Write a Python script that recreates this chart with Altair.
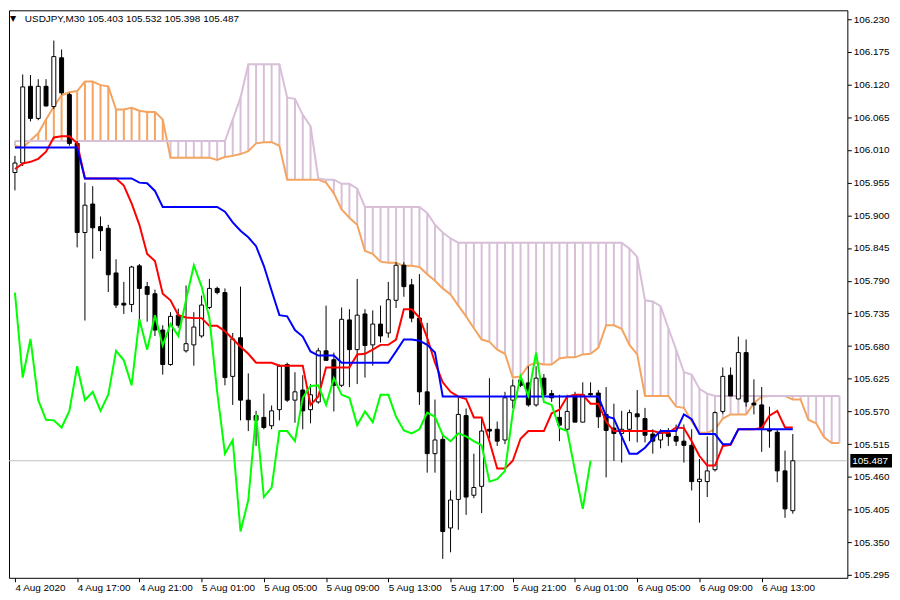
import altair as alt
import pandas as pd

# ---- candles (USDJPY M30), bar index 0..100 ----
opens = [105.972,105.988,106.117,106.063,106.117,106.083,106.165,106.103,106.021,105.871,
         105.919,105.881,105.878,105.803,105.752,105.750,105.815,105.780,105.768,105.707,
         105.649,105.732,105.672,105.682,105.697,105.745,105.777,105.770,105.629,105.694,
         105.589,105.563,105.560,105.546,105.573,105.649,105.589,105.606,105.573,105.586,
         105.672,105.657,105.614,105.724,105.674,105.734,105.682,105.717,105.702,105.757,
         105.816,105.783,105.727,105.603,105.499,105.523,105.374,105.422,105.563,105.429,
         105.444,105.540,105.540,105.522,105.589,105.623,105.618,105.581,105.626,105.600,
         105.560,105.540,105.598,105.552,105.600,105.601,105.565,105.542,105.533,105.540,
         105.566,105.558,105.532,105.522,105.533,105.528,105.520,105.513,105.452,105.452,
         105.472,105.570,105.631,105.591,105.669,105.584,105.581,105.540,105.535,105.470,
         105.403]
highs = [106.000,106.137,106.136,106.129,106.129,106.194,106.179,106.106,106.025,105.955,
         105.949,105.898,105.884,105.826,105.788,105.815,105.818,105.788,105.775,105.715,
         105.737,105.743,105.782,105.737,105.765,105.793,105.780,105.777,105.702,105.780,
         105.634,105.571,105.600,105.580,105.649,105.652,105.636,105.631,105.616,105.677,
         105.748,105.669,105.745,105.742,105.793,105.742,105.740,105.748,105.788,105.821,
         105.821,105.793,105.801,105.719,105.590,105.532,105.437,105.595,105.575,105.499,
         105.558,105.626,105.553,105.603,105.624,105.631,105.646,105.646,105.633,105.606,
         105.598,105.598,105.603,105.619,105.619,105.606,105.611,105.583,105.571,105.573,
         105.606,105.576,105.540,105.540,105.542,105.548,105.548,105.540,105.490,105.528,
         105.570,105.644,105.644,105.696,105.691,105.624,105.611,105.578,105.540,105.504,
         105.532]
lows = [105.942,105.983,106.058,106.060,106.083,106.079,106.103,106.017,105.846,105.723,
        105.827,105.840,105.771,105.744,105.734,105.737,105.723,105.721,105.697,105.632,
        105.647,105.711,105.669,105.647,105.694,105.742,105.767,105.614,105.581,105.555,
        105.537,105.512,105.540,105.540,105.555,105.586,105.551,105.540,105.550,105.583,
        105.656,105.570,105.611,105.611,105.616,105.627,105.647,105.686,105.694,105.744,
        105.763,105.720,105.581,105.467,105.467,105.322,105.333,105.371,105.396,105.424,
        105.399,105.525,105.512,105.515,105.575,105.611,105.578,105.578,105.595,105.586,
        105.520,105.537,105.552,105.552,105.596,105.542,105.459,105.487,105.484,105.520,
        105.518,105.518,105.499,105.508,105.512,105.512,105.484,105.437,105.383,105.426,
        105.469,105.566,105.596,105.591,105.578,105.565,105.502,105.509,105.451,105.391,
        105.398]
closes = [105.988,106.116,106.063,106.117,106.084,106.167,106.106,106.021,105.871,105.917,
          105.879,105.874,105.800,105.749,105.749,105.813,105.777,105.767,105.707,105.649,
          105.730,105.715,105.684,105.712,105.749,105.777,105.770,105.627,105.692,105.589,
          105.556,105.555,105.543,105.571,105.646,105.589,105.603,105.571,105.598,105.672,
          105.656,105.614,105.725,105.674,105.732,105.681,105.717,105.697,105.758,105.816,
          105.780,105.727,105.603,105.499,105.522,105.368,105.421,105.565,105.426,105.442,
          105.537,105.537,105.520,105.593,105.613,105.614,105.581,105.626,105.598,105.593,
          105.547,105.570,105.552,105.598,105.598,105.561,105.538,105.533,105.540,105.568,
          105.561,105.530,105.520,105.533,105.528,105.520,105.513,105.452,105.456,105.470,
          105.568,105.629,105.596,105.669,105.586,105.581,105.542,105.537,105.470,105.406,
          105.487]

# ---- Ichimoku lines ----
tenkan = [105.978,105.987,105.990,105.995,106.007,106.031,106.033,106.033,106.021,105.962,
          105.962,105.962,105.962,105.962,105.950,105.920,105.884,105.835,105.823,105.768,
          105.757,105.732,105.728,105.727,105.727,105.714,105.714,105.705,105.692,105.679,
          105.667,105.652,105.652,105.652,105.647,105.647,105.647,105.647,105.581,105.595,
          105.644,105.644,105.644,105.644,105.666,105.667,105.674,105.682,105.682,105.691,
          105.742,105.742,105.728,105.694,105.652,105.619,105.603,105.595,105.591,105.560,
          105.560,105.520,105.474,105.474,105.487,105.524,105.537,105.537,105.537,105.567,
          105.573,105.595,105.598,105.598,105.583,105.583,105.553,105.537,105.537,105.537,
          105.537,105.537,105.537,105.534,105.534,105.543,105.542,105.520,105.495,105.479,
          105.479,105.512,105.514,105.540,105.540,105.540,105.542,105.563,105.571,105.543,
          105.543]
kijun = [106.014,106.014,106.014,106.014,106.014,106.014,106.014,106.014,106.014,105.962,
         105.962,105.962,105.962,105.962,105.962,105.962,105.955,105.954,105.941,105.914,
         105.914,105.914,105.914,105.914,105.914,105.914,105.914,105.906,105.888,105.874,
         105.863,105.848,105.815,105.773,105.732,105.730,105.707,105.696,105.671,105.664,
         105.664,105.664,105.652,105.652,105.652,105.652,105.652,105.652,105.652,105.671,
         105.691,105.691,105.689,105.682,105.669,105.595,105.595,105.595,105.595,105.595,
         105.595,105.595,105.595,105.595,105.595,105.595,105.595,105.595,105.595,105.595,
         105.595,105.595,105.595,105.595,105.595,105.595,105.562,105.558,105.528,105.499,
         105.499,105.509,105.524,105.537,105.537,105.537,105.565,105.557,105.532,105.532,
         105.532,105.515,105.515,105.540,105.540,105.540,105.540,105.540,105.540,105.540,
         105.540]
chikou = [105.770,105.627,105.692,105.589,105.556,105.555,105.543,105.571,105.646,105.589,
          105.603,105.571,105.598,105.672,105.656,105.614,105.725,105.674,105.732,105.681,
          105.717,105.697,105.758,105.816,105.780,105.727,105.603,105.499,105.522,105.368,
          105.421,105.565,105.426,105.442,105.537,105.537,105.520,105.593,105.613,105.614,
          105.581,105.626,105.598,105.593,105.547,105.570,105.552,105.598,105.598,105.561,
          105.538,105.533,105.540,105.568,105.561,105.530,105.520,105.533,105.528,105.520,
          105.513,105.452,105.456,105.470,105.568,105.629,105.596,105.669,105.586,105.581,
          105.542,105.537,105.470,105.406,105.487]
span_a = [106.017,106.014,106.026,106.038,106.061,106.083,106.102,106.107,106.109,106.125,
          106.125,106.119,106.117,106.078,106.078,106.081,106.076,106.074,106.074,106.061,
          105.997,105.997,105.997,105.997,105.997,105.997,105.993,105.998,106.000,106.003,
          106.008,106.021,106.023,106.023,106.017,105.960,105.960,105.960,105.960,105.960,
          105.955,105.937,105.910,105.896,105.884,105.840,105.835,105.822,105.820,105.820,
          105.815,105.815,105.813,105.801,105.790,105.777,105.767,105.748,105.730,105.710,
          105.691,105.687,105.674,105.667,105.627,105.629,105.647,105.652,105.649,105.649,
          105.659,105.661,105.661,105.666,105.667,105.677,105.715,105.715,105.709,105.682,
          105.666,105.596,105.596,105.596,105.596,105.578,105.576,105.553,105.534,105.534,
          105.540,105.558,105.565,105.565,105.565,105.584,105.595,105.596,105.596,105.596,
          105.590,105.590,105.556,105.550,105.527,105.517,105.517]
span_b = [106.025]*28 + [
          106.061,106.098,106.154,106.154,106.154,106.154,106.154,106.098,106.096,106.069,
          106.050,105.962,105.960,105.960,105.953,105.953,105.945,105.914,105.914,105.914,
          105.914,105.914,105.914,105.914,105.914,105.904,105.884,105.871,105.861,105.854] + [105.854]*21 + [
          105.844,105.830,105.757,105.755,105.747,105.710,105.674,105.636,105.632,105.608,
          105.600] + [105.596]*17

price_ticks = [106.230,106.175,106.120,106.065,106.010,105.955,105.900,105.845,105.790,
               105.735,105.680,105.625,105.570,105.515,105.460,105.405,105.350,105.295]
tick_pos = list(range(0, 97, 8))
tick_labels = ["4 Aug 2020","4 Aug 17:00","4 Aug 21:00","5 Aug 01:00","5 Aug 05:00",
               "5 Aug 09:00","5 Aug 13:00","5 Aug 17:00","5 Aug 21:00","6 Aug 01:00",
               "6 Aug 05:00","6 Aug 09:00","6 Aug 13:00"]
bid = 105.487
header = "USDJPY,M30  105.403 105.532 105.398 105.487"

# ---- tables ----
n = len(closes)
candles = pd.DataFrame({"i": range(n), "open": opens, "high": highs, "low": lows,
                        "close": closes})
candles["kind"] = ["bull" if c >= o else "bear" for o, c in zip(opens, closes)]
cloud = pd.DataFrame({"i": range(len(span_a)), "a": span_a, "b": span_b})
cloud["kind"] = ["up" if a >= b else "down" for a, b in zip(span_a, span_b)]
ten_df = pd.DataFrame({"i": range(n), "v": tenkan})
kij_df = pd.DataFrame({"i": range(n), "v": kijun})
chi_df = pd.DataFrame({"i": range(len(chikou)), "v": chikou})
one = pd.DataFrame({"k": [0]})

W, H = 845, 572
FONT = "Liberation Sans"
xs = alt.Scale(domain=[-0.125, 106.375], nice=False, zero=False)
ys = alt.Scale(domain=[105.2901, 106.2449], nice=False, zero=False)

label_expr = " : ".join("datum.value == %d ? '%s'" % (p, s)
                        for p, s in zip(tick_pos, tick_labels)) + " : ''"
x_axis = alt.Axis(values=tick_pos, labelExpr=label_expr, title=None,
                  grid=False, domain=False, tickSize=4, tickColor="black",
                  labelAlign="left", labelPadding=1, labelFlush=False, labelOverlap=False,
                  labelFont=FONT, labelFontSize=10, labelColor="black")
y_axis = alt.Axis(orient="right", values=price_ticks, format=".3f", title=None,
                  grid=False, domain=False, tickSize=4, tickColor="black",
                  labelPadding=2, labelOverlap=False, labelFont=FONT, labelFontSize=10,
                  labelColor="black")


def X(field):
    return alt.X(field, type="quantitative", scale=xs, axis=x_axis)


def Y(field):
    return alt.Y(field, type="quantitative", scale=ys, axis=y_axis)


hatch = alt.Chart(cloud).mark_rule(strokeWidth=2).encode(
    x=X("i"), y=Y("a"), y2="b",
    color=alt.Color("kind:N", scale=alt.Scale(domain=["up", "down"],
                                              range=["#F4A460", "#D8BFD8"]), legend=None))
line_a = alt.Chart(cloud).mark_line(color="#F4A460", strokeWidth=2).encode(x=X("i"), y=Y("a"))
line_b = alt.Chart(cloud).mark_line(color="#D8BFD8", strokeWidth=2).encode(x=X("i"), y=Y("b"))

bid_line = alt.Chart(one).mark_rule(color="#C0C0C0", strokeWidth=1).encode(
    y=alt.YDatum(bid, type="quantitative", scale=ys, axis=y_axis))

wicks = alt.Chart(candles).mark_rule(color="black", strokeWidth=1).encode(
    x=X("i"), y=Y("low"), y2="high")
bodies = alt.Chart(candles).mark_bar(size=4, stroke="black", strokeWidth=1).encode(
    x=X("i"), y=Y("open"), y2="close",
    fill=alt.Fill("kind:N", scale=alt.Scale(domain=["bull", "bear"], range=["white", "black"]),
                  legend=None))

l_ten = alt.Chart(ten_df).mark_line(color="#FF0000", strokeWidth=2).encode(x=X("i"), y=Y("v"))
l_kij = alt.Chart(kij_df).mark_line(color="#0000FF", strokeWidth=2).encode(x=X("i"), y=Y("v"))
l_chi = alt.Chart(chi_df).mark_line(color="#00FF00", strokeWidth=2).encode(x=X("i"), y=Y("v"))

tri = alt.Chart(one).mark_text(text="▼", fontSize=8, color="black", align="left",
                               baseline="middle", font="DejaVu Sans").encode(
    x=alt.value(1), y=alt.value(9))
head = alt.Chart(one).mark_text(text=header, fontSize=10, color="black", align="left",
                                baseline="middle", font=FONT).encode(
    x=alt.value(16), y=alt.value(9))

bid_box = alt.Chart(one).mark_rect(color="black").encode(
    x=alt.value(W + 3), x2=alt.value(W + 45),
    y=alt.YDatum(bid + 0.0115, type="quantitative", scale=ys, axis=y_axis),
    y2=alt.Y2Datum(bid - 0.0115))
bid_text = alt.Chart(one).mark_text(text="105.487", color="white", fontSize=10, font=FONT,
                                    align="left", baseline="middle").encode(
    x=alt.value(W + 5), y=alt.YDatum(bid, type="quantitative", scale=ys, axis=y_axis))

chart = alt.layer(hatch, line_a, line_b, bid_line, wicks, bodies,
                  l_ten, l_kij, l_chi, tri, head, bid_box, bid_text).properties(
    width=W, height=H, padding=0, background="white"
).configure_view(stroke="black", strokeWidth=1)

chart.save("out.html", embed_options={"renderer": "svg", "actions": False})
